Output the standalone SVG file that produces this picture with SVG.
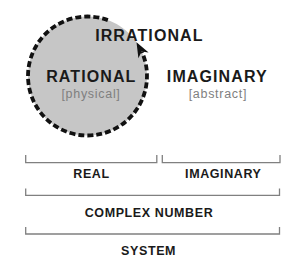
<svg xmlns="http://www.w3.org/2000/svg" width="300" height="274" viewBox="0 0 300 274">
<style>
.big{font-family:"Liberation Sans",Arial,sans-serif;font-weight:bold;font-size:16px;letter-spacing:1.1px;fill:#1a1a1a;text-anchor:middle}
.sub{font-family:"Liberation Sans",Arial,sans-serif;font-size:12.5px;letter-spacing:0.7px;fill:#7f7f7f;text-anchor:middle}
.lbl{font-family:"Liberation Sans",Arial,sans-serif;font-weight:bold;font-size:12.5px;letter-spacing:0.6px;fill:#1a1a1a;text-anchor:middle}
.br{fill:none;stroke:#808080;stroke-width:1.3}
</style>
<rect width="300" height="274" fill="#ffffff"/>
<g id="rational">
<circle cx="87.5" cy="76" r="59.5" fill="#c6c6c6"/>
<text class="big" x="91.3" y="81.7">RATIONAL</text>
<text class="sub" x="91" y="98">[physical]</text>
</g>
<g id="connectors">
<path d="M107.85,20.09 A59.5,59.5 0 1 0 141.86,51.8" fill="none" stroke="#111" stroke-width="3.8" stroke-dasharray="6 3"/>
<polygon points="136.5,42.3 148.6,52.6 141.6,51.6 138.4,58.2" fill="#111"/>
</g>
<g id="irrational">
<text class="big" x="149.4" y="40.7">IRRATIONAL</text>
</g>
<g id="imaginary">
<text class="big" x="217.3" y="81.7">IMAGINARY</text>
<text class="sub" x="217.9" y="98">[abstract]</text>
</g>
<g id="real">
<path class="br" d="M25.7,155 V162.7 H156.8 V155"/>
<text class="lbl" x="91.5" y="178.3">REAL</text>
</g>
<g id="imaginary-bracket">
<path class="br" d="M162.3,155 V162.7 H280 V155"/>
<text class="lbl" x="223.3" y="178.3">IMAGINARY</text>
</g>
<g id="complex-number">
<path class="br" d="M25.7,188.5 V195.3 H279.5 V188.5"/>
<text class="lbl" x="149" y="216.7">COMPLEX NUMBER</text>
</g>
<g id="system">
<path class="br" d="M25.7,227 V234 H279.5 V227"/>
<text class="lbl" x="148.6" y="255">SYSTEM</text>
</g>
</svg>
